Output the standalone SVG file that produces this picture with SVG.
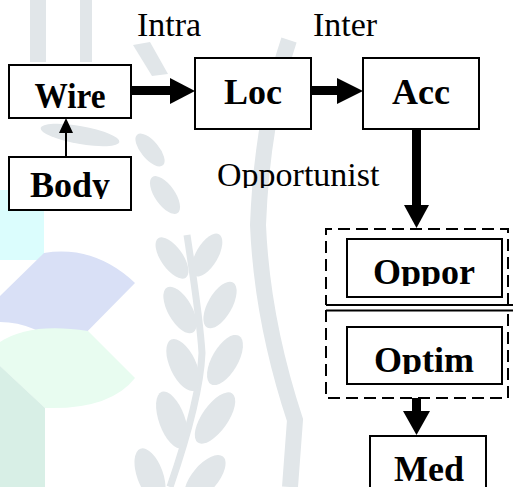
<svg xmlns="http://www.w3.org/2000/svg" width="513" height="487" viewBox="0 0 513 487">
  <defs>
    <style>
      .box{fill:#fff;stroke:#000;stroke-width:2}
      .lbl{font-family:"Liberation Serif","Times New Roman",serif;font-weight:bold;font-size:36px;fill:#000;text-anchor:middle}
      .edge{font-family:"Liberation Serif","Times New Roman",serif;font-size:34px;fill:#000}
      .dash{fill:none;stroke:#000;stroke-width:2;stroke-dasharray:12 6}
      .solid{fill:none;stroke:#000;stroke-width:2}
      .wm{fill:#e1e6e9}
    </style>
    <clipPath id="cBody"><rect x="0" y="0" width="513" height="199"/></clipPath>
    <clipPath id="cOppor"><rect x="0" y="0" width="513" height="286"/></clipPath>
    <clipPath id="cOptim"><rect x="0" y="0" width="513" height="374"/></clipPath>
    <clipPath id="cOpp"><rect x="0" y="0" width="513" height="188"/></clipPath>
  </defs>
  <rect width="513" height="487" fill="#fff"/>

  <g id="watermark">
    <rect x="0" y="190" width="44" height="70" fill="#dbfdfd"/>
    <path d="M0,296 L44,253 Q95,245 135,283 L68,351 Q35,322 0,322 Z" fill="#d9e0f6"/>
    <path d="M0,342 Q30,322 88,331 L135,378 Q110,410 45,408 L0,366 Z" fill="#e8fcf0"/>
    <path d="M0,366 L45,408 L45,487 L0,487 Z" fill="#d8efe6"/>
    <rect x="30" y="0" width="16" height="62" class="wm"/>
    <rect x="80" y="0" width="12" height="62" class="wm"/>
    <path d="M133,45 L150,42 L168,74 L152,76 Z" class="wm"/>
    <path d="M289,40 Q262,120 258,225 Q262,320 295,420 L290,487" fill="none" stroke="#e1e6e9" stroke-width="16"/>
    <path d="M187,235 Q200,320 202,353 Q200,400 170,487" fill="none" stroke="#e1e6e9" stroke-width="7"/>
    <g class="wm">
      <ellipse cx="172" cy="258" rx="11" ry="24" transform="rotate(-35 172 258)"/>
      <ellipse cx="207" cy="255" rx="11" ry="24" transform="rotate(30 207 255)"/>
      <ellipse cx="180" cy="310" rx="12" ry="26" transform="rotate(-30 180 310)"/>
      <ellipse cx="220" cy="305" rx="12" ry="26" transform="rotate(30 220 305)"/>
      <ellipse cx="183" cy="365" rx="13" ry="28" transform="rotate(-25 183 365)"/>
      <ellipse cx="225" cy="360" rx="13" ry="28" transform="rotate(30 225 360)"/>
      <ellipse cx="172" cy="420" rx="13" ry="30" transform="rotate(-20 172 420)"/>
      <ellipse cx="215" cy="418" rx="13" ry="30" transform="rotate(35 215 418)"/>
      <ellipse cx="150" cy="475" rx="13" ry="28" transform="rotate(-20 150 475)"/>
      <ellipse cx="205" cy="478" rx="13" ry="28" transform="rotate(40 205 478)"/>
      <ellipse cx="165" cy="195" rx="10" ry="22" transform="rotate(-35 165 195)"/>
      <ellipse cx="150" cy="150" rx="9" ry="20" transform="rotate(-40 150 150)"/>
      <ellipse cx="80" cy="135" rx="40" ry="9" transform="rotate(10 80 135)"/>
    </g>
  </g>

  <g id="connectors">
    <line x1="66" y1="157" x2="66" y2="131" stroke="#000" stroke-width="2"/>
    <polygon points="66,118 59,133 73,133" fill="#000"/>
    <rect x="131" y="86" width="41" height="9" fill="#000"/>
    <polygon points="170,78 195,91 170,104" fill="#000"/>
    <rect x="311" y="86" width="28" height="9" fill="#000"/>
    <polygon points="337,78 363,91 337,104" fill="#000"/>
    <rect x="412" y="129" width="9" height="78" fill="#000"/>
    <polygon points="404,205 429,205 416.5,228" fill="#000"/>
    <rect x="412" y="398" width="9" height="15" fill="#000"/>
    <polygon points="403,411 430,411 416.5,435" fill="#000"/>
  </g>

  <g id="group-oppor">
    <path class="dash" d="M508,305 V229 H326 V305"/>
    <line class="solid" x1="326" y1="305" x2="513" y2="305"/>
  </g>
  <g id="group-optim">
    <line class="solid" x1="326" y1="310.5" x2="513" y2="310.5"/>
    <path class="dash" d="M326,310 V398 H508 V310"/>
  </g>

  <g id="node-wire">
    <rect class="box" x="9" y="65" width="122" height="53"/>
    <text class="lbl" x="70" y="108" textLength="71" lengthAdjust="spacingAndGlyphs">Wire</text>
  </g>
  <g id="node-body">
    <rect class="box" x="9" y="157" width="122" height="53"/>
    <text class="lbl" x="70" y="197" clip-path="url(#cBody)">Body</text>
  </g>
  <g id="node-loc">
    <rect class="box" x="195" y="58" width="116" height="71"/>
    <text class="lbl" x="253" y="104">Loc</text>
  </g>
  <g id="node-acc">
    <rect class="box" x="363" y="58" width="116" height="71"/>
    <text class="lbl" x="421" y="104">Acc</text>
  </g>
  <g id="node-oppor">
    <rect class="box" x="347" y="239" width="155" height="58"/>
    <text class="lbl" x="424" y="284" clip-path="url(#cOppor)">Oppor</text>
  </g>
  <g id="node-optim">
    <rect class="box" x="347" y="327" width="155" height="57"/>
    <text class="lbl" x="424" y="372" clip-path="url(#cOptim)">Optim</text>
  </g>
  <g id="node-med">
    <rect class="box" x="370" y="436" width="116" height="60"/>
    <text class="lbl" x="429" y="481">Med</text>
  </g>

  <g id="labels">
    <text class="edge" x="137" y="36">Intra</text>
    <text class="edge" x="313" y="36">Inter</text>
    <text class="edge" x="217" y="186" clip-path="url(#cOpp)">Opportunist</text>
  </g>
</svg>
